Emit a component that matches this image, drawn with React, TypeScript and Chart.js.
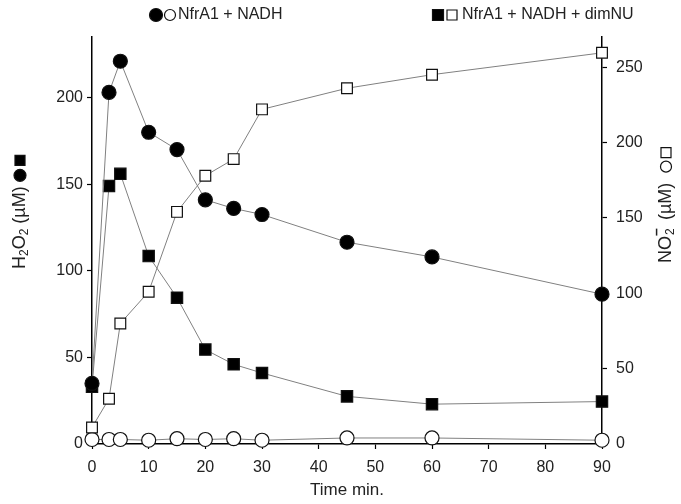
import React, { useEffect, useRef } from "react";
import { Chart, registerables } from "chart.js";

Chart.register(...registerables);

const times = [0, 3, 5, 10, 15, 20, 25, 30, 45, 60, 90];
const h2o2Nadh = [35, 203, 221, 180, 170, 141, 136, 132.5, 116.5, 108, 86.5];
const no2Nadh = [3, 3, 3, 2.5, 3.5, 3, 3.5, 2.5, 4, 4, 2.5];
const h2o2Dim = [33, 149, 156, 108.5, 84.5, 54.5, 46, 41, 27.5, 23, 24.5];
const no2Dim = [11, 30, 80, 101, 154, 178, 189, 222, 236, 245, 259.5];

const xTicks = [0, 10, 20, 30, 40, 50, 60, 70, 80, 90];
const leftTicks = [0, 50, 100, 150, 200];
const rightTicks = [0, 50, 100, 150, 200, 250];

const legendLabels = ["NfrA1 + NADH", "NfrA1 + NADH + dimNU"];
const xTitle = "Time min.";

const FONT = '"Liberation Sans", Arial, sans-serif';
const TEXT = "#222";

function pts(ys: number[]) {
  return times.map((t, i) => ({ x: t, y: ys[i] }));
}

function drawCircle(ctx: CanvasRenderingContext2D, x: number, y: number, r: number, filled: boolean) {
  ctx.beginPath();
  ctx.arc(x, y, r, 0, Math.PI * 2);
  ctx.fillStyle = filled ? "#000" : "#fff";
  ctx.fill();
  ctx.lineWidth = 1.2;
  ctx.strokeStyle = "#111";
  ctx.stroke();
}
function drawSquare(ctx: CanvasRenderingContext2D, x: number, y: number, s: number, filled: boolean) {
  ctx.beginPath();
  ctx.rect(x - s / 2, y - s / 2, s, s);
  ctx.fillStyle = filled ? "#000" : "#fff";
  ctx.fill();
  ctx.lineWidth = 1.2;
  ctx.strokeStyle = "#111";
  ctx.stroke();
}

const decorPlugin = {
  id: "decor",
  afterDraw(chart: any) {
    const ctx: CanvasRenderingContext2D = chart.ctx;
    ctx.save();
    ctx.fillStyle = TEXT;
    ctx.textBaseline = "middle";
    ctx.textAlign = "left";
    ctx.font = `16px ${FONT}`;
    // legend
    const ly = 15;
    drawCircle(ctx, 156, ly, 6.5, true);
    drawCircle(ctx, 170, ly, 5.5, false);
    ctx.fillStyle = TEXT;
    ctx.fillText(legendLabels[0], 178, ly);
    drawSquare(ctx, 438, ly, 11, true);
    drawSquare(ctx, 452, ly, 10, false);
    ctx.fillStyle = TEXT;
    ctx.fillText(legendLabels[1], 462, ly);

    // x title
    ctx.textAlign = "center";
    ctx.font = `17px ${FONT}`;
    ctx.fillText(xTitle, 347, 490);

    // left title
    const big = `18px ${FONT}`;
    const small = `12px ${FONT}`;
    ctx.save();
    ctx.translate(20, 0);
    ctx.rotate(-Math.PI / 2);
    ctx.textAlign = "left";
    let x = -269;
    const segsL: [string, boolean][] = [["H", false], ["2", true], ["O", false], ["2", true], [" (\u00B5M) ", false]];
    for (const [t, sub] of segsL) {
      ctx.font = sub ? small : big;
      ctx.fillStyle = TEXT;
      ctx.fillText(t, x, sub ? 4.5 : 0);
      x += ctx.measureText(t).width;
    }
    drawCircle(ctx, x + 6, 0, 6, true);
    drawSquare(ctx, x + 21, 0, 10, true);
    ctx.restore();

    // right title
    ctx.save();
    ctx.translate(666, 0);
    ctx.rotate(-Math.PI / 2);
    ctx.textAlign = "left";
    x = -263;
    ctx.font = big;
    ctx.fillStyle = TEXT;
    ctx.fillText("NO", x, 0);
    x += ctx.measureText("NO").width;
    ctx.font = small;
    ctx.fillText("2", x + 1, 4.5);
    ctx.font = `bold 14px ${FONT}`;
    ctx.fillText("\u2013", x, -9);
    x += 11;
    ctx.font = big;
    ctx.fillText(" (\u00B5M)  ", x, 0);
    x += ctx.measureText(" (\u00B5M)  ").width;
    drawCircle(ctx, x + 6, 0, 5.5, false);
    drawSquare(ctx, x + 20, 0, 10, false);
    ctx.restore();

    ctx.restore();
  },
};

export default function App() {
  const ref = useRef<HTMLCanvasElement | null>(null);
  useEffect(() => {
    if (!ref.current) return;
    const lineColor = "#808080";
    const mk = (data: number[], axis: string, style: string, filled: boolean, radius: number) => ({
      data: pts(data),
      yAxisID: axis,
      borderColor: lineColor,
      borderWidth: 1,
      pointStyle: style,
      pointRadius: radius,
      pointBackgroundColor: filled ? "#000" : "#fff",
      pointBorderColor: "#111",
      pointBorderWidth: 1.2,
      clip: false,
      tension: 0,
    });
    const tickStyle = { color: TEXT, font: { size: 16, family: FONT } };
    const chart = new Chart(ref.current, {
      type: "line",
      data: {
        datasets: [
          mk(h2o2Nadh, "y", "circle", true, 7),
          mk(h2o2Dim, "y", "rect", true, 8),
          mk(no2Dim, "y2", "rect", false, 7.6),
          mk(no2Nadh, "y2", "circle", false, 7),
        ] as any,
      },
      options: {
        animation: false,
        responsive: false,
        layout: { padding: { top: 37, left: 0, right: 0, bottom: 0 } },
        plugins: { legend: { display: false }, tooltip: { enabled: false } },
        scales: {
          x: {
            type: "linear",
            min: 0,
            max: 90,
            afterBuildTicks: (s: any) => {
              s.ticks = xTicks.map((v) => ({ value: v }));
            },
            afterFit: (s: any) => {
              s.height = 60;
            },
            ticks: { ...tickStyle, padding: 9, maxRotation: 0 },
            grid: { drawOnChartArea: false, tickLength: 5, color: "#000", tickWidth: 1.2 },
            border: { display: true, color: "#000", width: 1.5 },
          },
          y: {
            type: "linear",
            position: "left",
            min: 0,
            max: 235,
            afterBuildTicks: (s: any) => {
              s.ticks = leftTicks.map((v) => ({ value: v }));
            },
            afterFit: (s: any) => {
              s.width = 92;
            },
            ticks: { ...tickStyle, padding: 4 },
            grid: { drawOnChartArea: false, tickLength: 5, color: "#000", tickWidth: 1.2 },
            border: { display: true, color: "#000", width: 1.5 },
          },
          y2: {
            type: "linear",
            position: "right",
            min: 0,
            max: 270,
            afterBuildTicks: (s: any) => {
              s.ticks = rightTicks.map((v) => ({ value: v }));
            },
            afterFit: (s: any) => {
              s.width = 79;
            },
            ticks: { ...tickStyle, padding: 9 },
            grid: { drawOnChartArea: false, tickLength: 5, color: "#000", tickWidth: 1.2 },
            border: { display: true, color: "#000", width: 1.5 },
          },
        },
      } as any,
      plugins: [decorPlugin],
    });
    return () => chart.destroy();
  }, []);
  return (
    <div style={{ position: "fixed", left: 0, top: 0, width: 681, height: 504, background: "#fff" }}>
      <canvas ref={ref} width={681} height={504} style={{ display: "block" }} />
    </div>
  );
}
